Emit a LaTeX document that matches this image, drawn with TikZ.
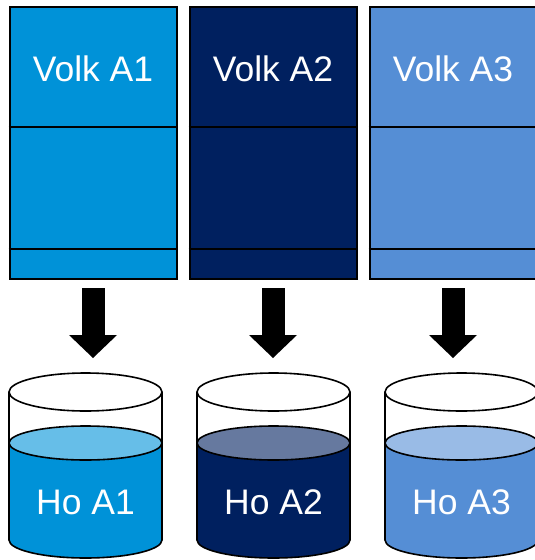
\documentclass[tikz,border=0pt]{standalone}
\usepackage{fontspec}
\setmainfont{Liberation Sans}
\usetikzlibrary{arrows.meta}

\definecolor{volkA}{HTML}{0092D8}
\definecolor{volkB}{HTML}{00205F}
\definecolor{volkC}{HTML}{558ED5}
\definecolor{hoA}{HTML}{66BEE8}
\definecolor{hoB}{HTML}{66799F}
\definecolor{hoC}{HTML}{99BBE6}

\begin{document}
\begin{tikzpicture}[x=1pt,y=1pt,
    hive/.style={draw=black, line width=2pt, minimum width=167pt, minimum height=272pt, inner sep=0pt},
    txt/.style={text=white, font=\fontsize{35.5}{36}\selectfont, inner sep=0pt},
    feed/.style={line width=23pt, -{Triangle[width=48pt,length=23pt,line width=0pt]}, shorten <=8pt, shorten >=15pt},
    glass/.style={line width=1.6pt}]
    \useasboundingbox (0,0) rectangle (535,-560);
    % three colonies on top, one jar of honey below each
    \foreach \i/\cx/\bx/\main/\top in {1/93/85.5/volkA/hoA, 2/273/273.5/volkB/hoB, 3/453/461.5/volkC/hoC} {
        \node[hive, fill=\main] (col\i) at (\cx,-143) {};
        \draw[line width=2pt] ([yshift=-121pt]col\i.north west) -- ([yshift=-121pt]col\i.north east);
        \draw[line width=2pt] ([yshift=31pt]col\i.south west) -- ([yshift=31pt]col\i.south east);
        \node[txt] (volk\i) at (\cx,-69) {Volk A\i};
        \begin{scope}[shift={(\bx,0)}]
            % liquid
            \draw[glass, fill=\main] (-76.5,-443) -- (-76.5,-540) arc[start angle=180, end angle=360, x radius=76.5, y radius=18] -- (76.5,-443) -- cycle;
            \draw[glass, fill=\top] (0,-443) ellipse[x radius=76.5, y radius=17];
            % jar wall and rim
            \draw[glass] (-76.5,-392) -- (-76.5,-443) (76.5,-392) -- (76.5,-443);
            \draw[glass, fill=white] (0,-392) ellipse[x radius=76.5, y radius=19];
            \coordinate (rim\i) at (0,-373);
            \node[txt] (ho\i) at (0,-502) {Ho A\i};
        \end{scope}
        \draw[feed] (col\i.south) -- (col\i.south |- rim\i);
    }
\end{tikzpicture}
\end{document}
